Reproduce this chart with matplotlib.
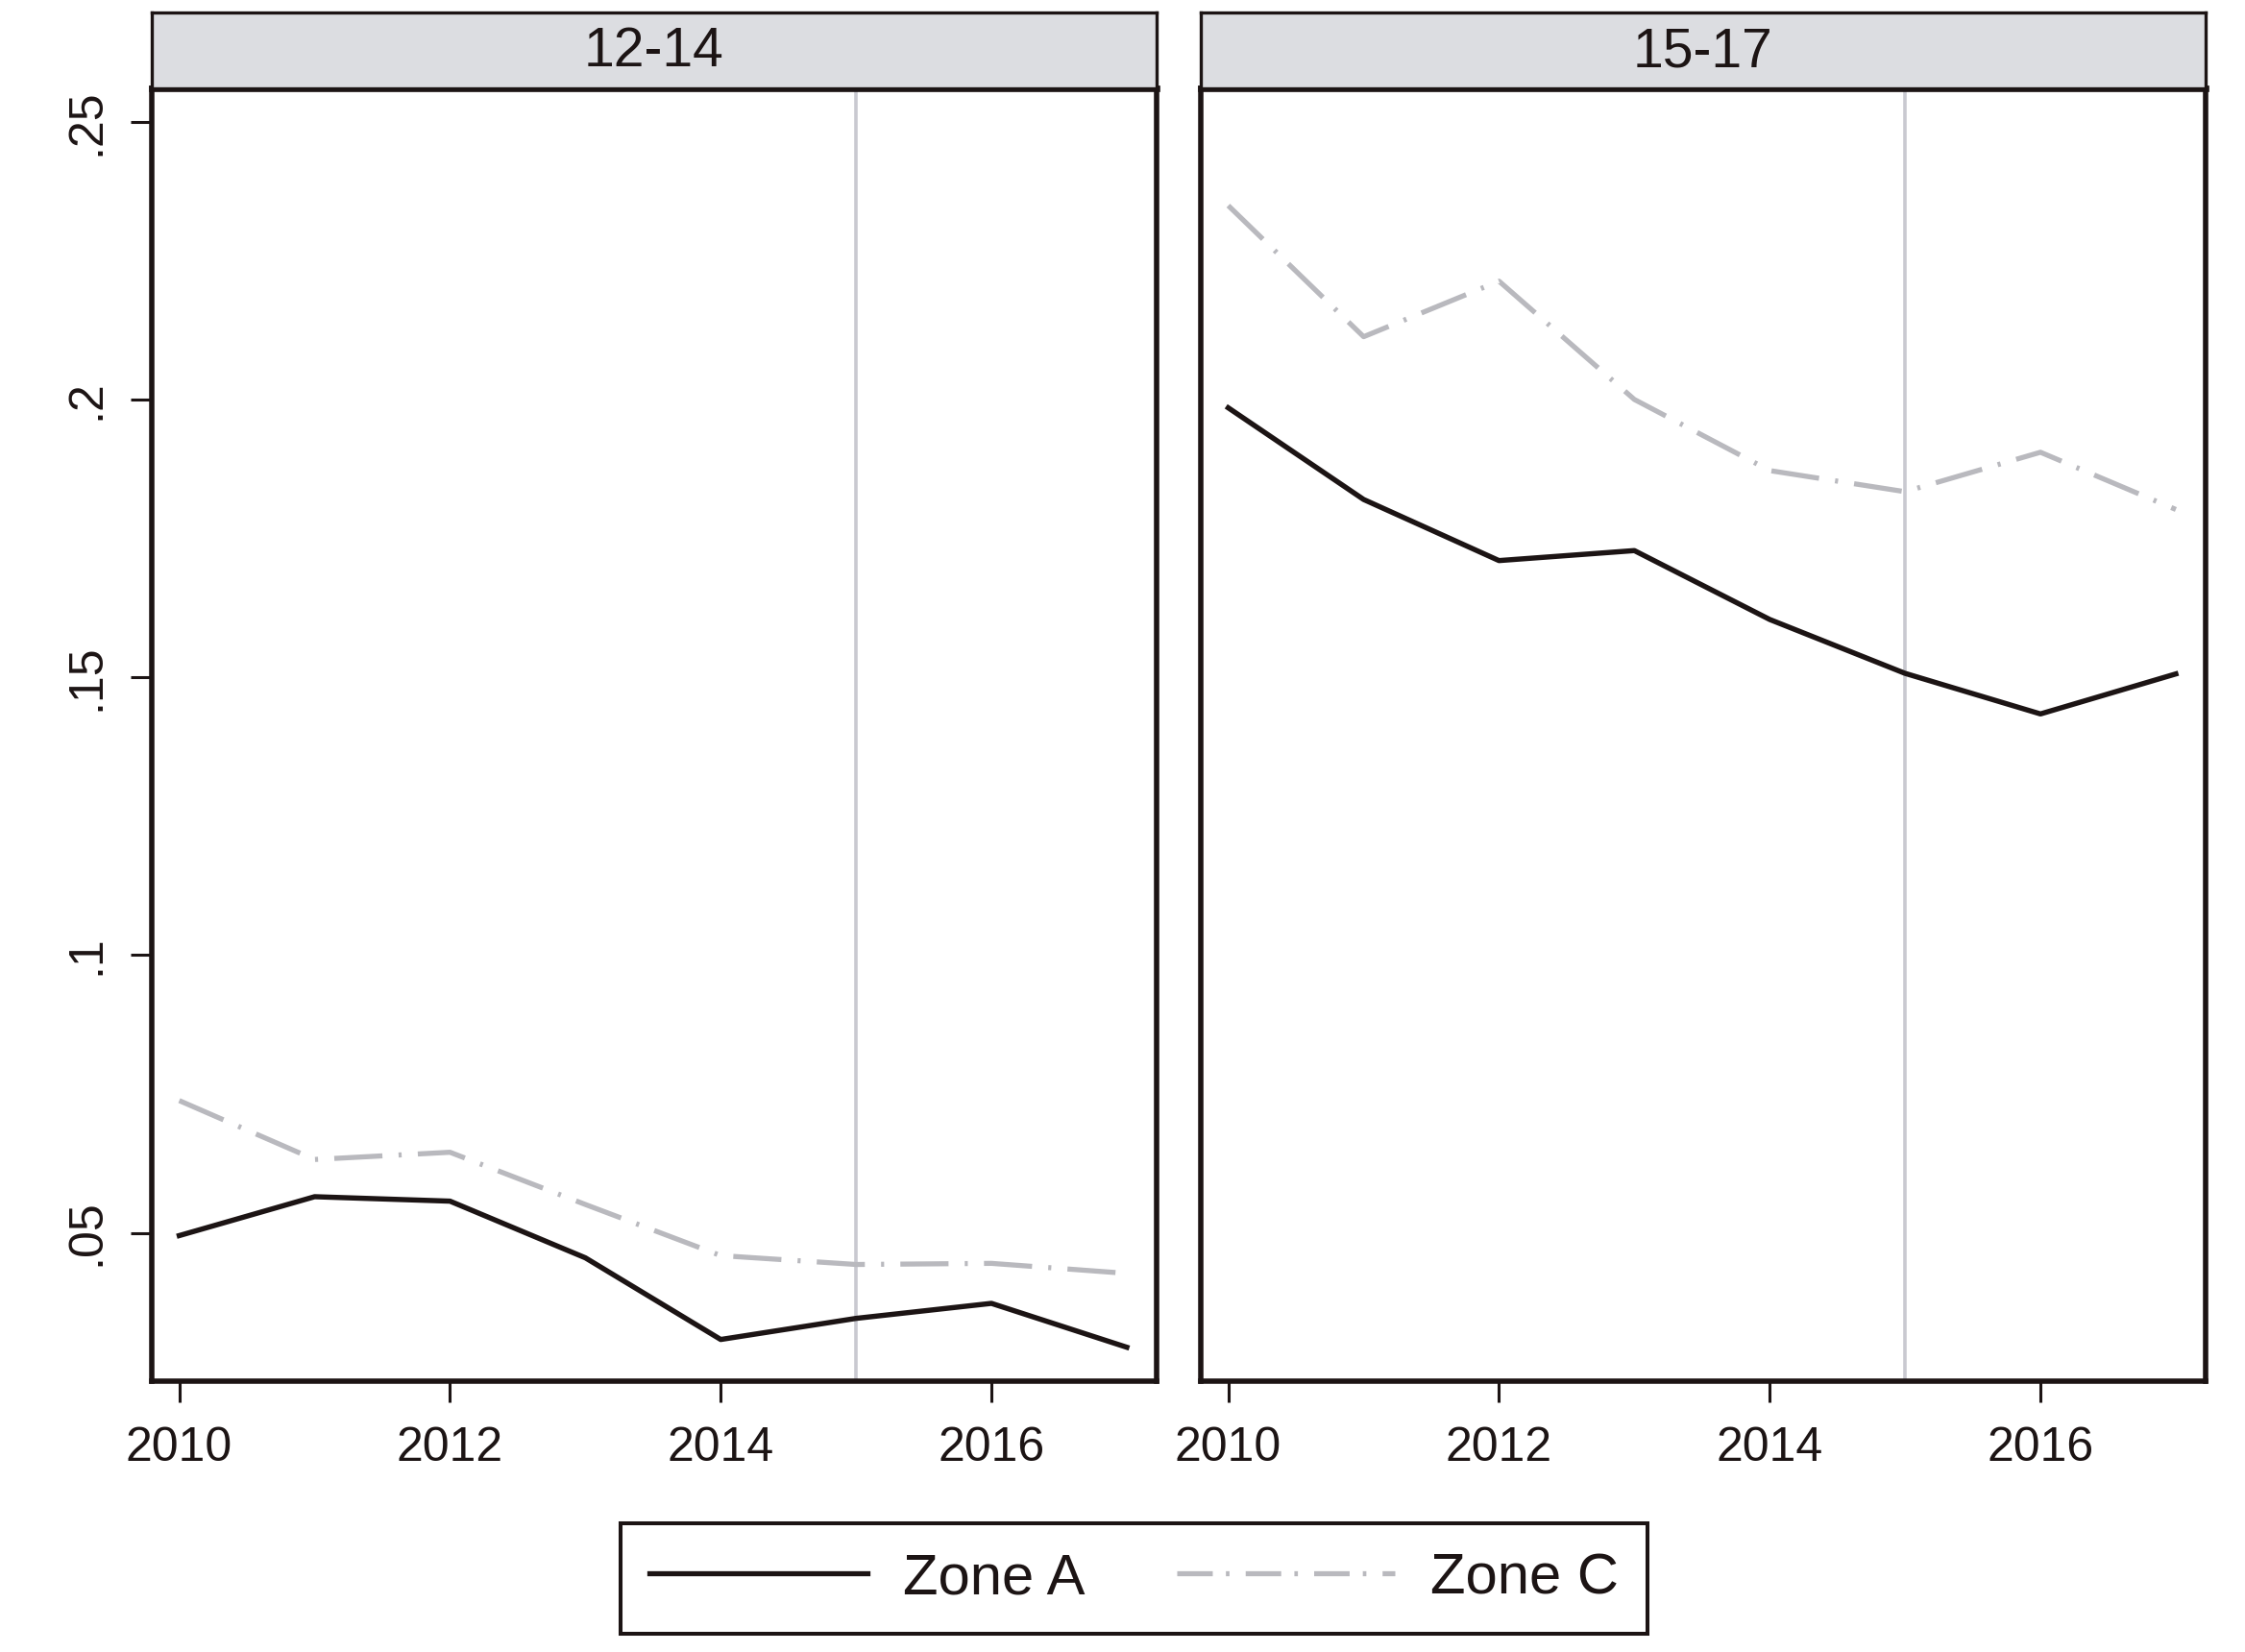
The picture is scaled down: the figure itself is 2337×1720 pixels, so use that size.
import matplotlib
matplotlib.use("Agg")
import matplotlib.pyplot as plt
from matplotlib.lines import Line2D

plt.rcParams['font.family'] = ['Liberation Sans', 'DejaVu Sans']

years = [2010, 2011, 2012, 2013, 2014, 2015, 2016, 2017]
panels = ["12-14", "15-17"]
zone_a = {
    "12-14": [0.0495, 0.0565, 0.0557, 0.0455, 0.0308, 0.0346, 0.0373, 0.0294],
    "15-17": [0.1985, 0.1820, 0.1710, 0.1728, 0.1604, 0.1507, 0.1434, 0.1506],
}
zone_c = {
    "12-14": [0.0738, 0.0632, 0.0645, 0.0551, 0.0459, 0.0443, 0.0445, 0.0427],
    "15-17": [0.2349, 0.2113, 0.2213, 0.2000, 0.1872, 0.1834, 0.1905, 0.1802],
}
series_labels = ["Zone A", "Zone C"]
x_ticks = [2010, 2012, 2014, 2016]
y_ticks = [0.05, 0.10, 0.15, 0.20, 0.25]
y_ticklabels = [".05", ".1", ".15", ".2", ".25"]
vline_year = 2015

dark = '#1c1414'
gray = '#b9b9be'
vcol = '#c9c9d0'
strip_face = '#dcdde1'

W, H = 2337, 1720
fig = plt.figure(figsize=(W / 200, H / 200), dpi=200)

lefts = [158, 1250]
pw = 1046
top_px, bot_px, strip_top_px = 92, 1438, 13

for i, p in enumerate(panels):
    x0 = lefts[i] / W
    ax = fig.add_axes([x0, 1 - bot_px / H, pw / W, (bot_px - top_px) / H])
    ax.axvline(vline_year, color=vcol, lw=1.3, zorder=1)
    ax.plot(years, zone_c[p], color=gray, lw=1.9,
            linestyle=(0, (9.5, 3.2, 0.6, 3.2)), zorder=2)
    ax.plot(years, zone_a[p], color=dark, lw=1.95, zorder=3)
    ax.set_xlim(2009.797, 2017.22)
    ax.set_ylim(0.0233, 0.2560)
    ax.set_xticks(x_ticks)
    ax.set_xticklabels([str(t) for t in x_ticks])
    ax.set_yticks(y_ticks)
    if i == 0:
        ax.set_yticklabels(y_ticklabels)
        for lab in ax.get_yticklabels():
            lab.set_rotation(90)
            lab.set_va('center')
    else:
        ax.tick_params(axis='y', left=False, labelleft=False)
    ax.tick_params(axis='both', length=8, width=1.1, color=dark,
                   labelsize=18, labelcolor=dark)
    ax.tick_params(axis='x', pad=9)
    ax.tick_params(axis='y', pad=8)
    for s in ['left', 'right', 'bottom']:
        ax.spines[s].set_linewidth(2.0)
        ax.spines[s].set_color(dark)
    ax.spines['top'].set_linewidth(2.4)
    ax.spines['top'].set_color(dark)
    ax.set_facecolor('white')

    sax = fig.add_axes([x0, 1 - top_px / H, pw / W, (top_px - strip_top_px) / H])
    sax.set_facecolor(strip_face)
    sax.set_xticks([])
    sax.set_yticks([])
    for s in sax.spines.values():
        s.set_linewidth(1.2)
        s.set_color(dark)
    sax.text(0.5, 0.48, p, ha='center', va='center', fontsize=20.5,
             color=dark, transform=sax.transAxes)

handles = [
    Line2D([], [], color=dark, lw=1.9),
    Line2D([], [], color=gray, lw=1.9, linestyle=(0, (7, 2.6, 0.7, 3.2))),
]
leg = fig.legend(handles, series_labels, loc='center',
                 bbox_to_anchor=(1180.5 / W, 1 - 1643.5 / H),
                 ncol=2, fontsize=21.5, frameon=True, fancybox=False,
                 framealpha=1, edgecolor=dark, borderpad=0.5,
                 handlelength=3.8, handletextpad=0.62, columnspacing=1.6)
leg.get_frame().set_linewidth(1.45)
for t in leg.get_texts():
    t.set_color(dark)

fig.savefig("out.png", dpi=200, facecolor='white')
